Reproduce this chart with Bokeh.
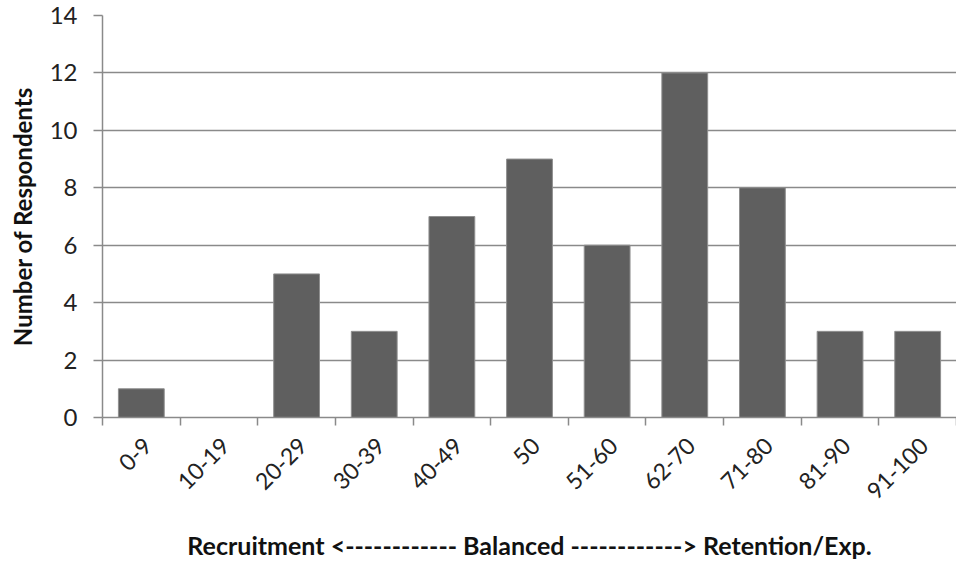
from math import pi

from bokeh.embed import file_html
from bokeh.models import ColumnDataSource, FixedTicker, Range1d
from bokeh.plotting import figure
from bokeh.resources import INLINE

# Respondent counts per score band
categories = ["0-9", "10-19", "20-29", "30-39", "40-49", "50",
              "51-60", "62-70", "71-80", "81-90", "91-100"]
respondents = [1, 0, 5, 3, 7, 9, 6, 12, 8, 3, 3]
y_ticks = [0, 2, 4, 6, 8, 10, 12, 14]

n = len(categories)
centers = [i + 0.5 for i in range(n)]
boundaries = [float(i) for i in range(n + 1)]
# slanted labels end a little right of each band centre
label_shift = 0.08
label_pos = [c + label_shift for c in centers]

source = ColumnDataSource(data=dict(x=centers, count=respondents, band=categories))

p = figure(
    width=956, height=562,
    x_range=Range1d(0, n), y_range=Range1d(0, 14),
    output_backend="svg", toolbar_location=None,
    min_border_left=102, min_border_right=0,
    min_border_top=15, min_border_bottom=144,
)

p.vbar(x="x", top="count", width=0.59, source=source,
       fill_color="#5f5f5f", line_color="#8f8f8f", line_width=1)

grid_color = "#8a8a8a"
font = "Lato"

# x axis: labels at band centres, tick marks between bands
xa = p.xaxis[0]
xa.ticker = FixedTicker(ticks=label_pos, minor_ticks=boundaries)
xa.major_label_overrides = {c: lab for c, lab in zip(label_pos, categories)}
xa.major_label_orientation = pi / 4
xa.major_tick_line_color = None
xa.major_tick_out = 0
xa.major_tick_in = 0
xa.minor_tick_line_color = grid_color
xa.minor_tick_line_width = 1.5
xa.minor_tick_out = 8
xa.minor_tick_in = 0
xa.axis_line_color = grid_color
xa.axis_line_width = 1.5
xa.major_label_text_font = font
xa.major_label_text_font_size = "23px"
xa.major_label_text_color = "#222222"
xa.major_label_standoff = 16
xa.axis_label = "Recruitment <------------ Balanced ------------> Retention/Exp."
xa.axis_label_text_font = font
xa.axis_label_text_font_style = "bold"
xa.axis_label_text_font_size = "25px"
xa.axis_label_text_color = "#111111"
xa.axis_label_standoff = 20

ya = p.yaxis[0]
ya.ticker = FixedTicker(ticks=y_ticks)
ya.minor_tick_line_color = None
ya.major_tick_line_color = grid_color
ya.major_tick_line_width = 1.5
ya.major_tick_out = 9
ya.major_tick_in = 0
ya.axis_line_color = grid_color
ya.axis_line_width = 1.5
ya.major_label_text_font = font
ya.major_label_text_font_size = "24px"
ya.major_label_text_color = "#222222"
ya.major_label_standoff = 16
ya.axis_label = "Number of Respondents"
ya.axis_label_text_font = font
ya.axis_label_text_font_style = "bold"
ya.axis_label_text_font_size = "24px"
ya.axis_label_text_color = "#111111"
ya.axis_label_standoff = 10

p.xgrid.grid_line_color = None
p.ygrid.grid_line_color = grid_color
p.ygrid.grid_line_width = 1.5
p.outline_line_color = None
p.background_fill_color = "white"
p.border_fill_color = "white"

open("out.html", "w").write(file_html(p, INLINE))
